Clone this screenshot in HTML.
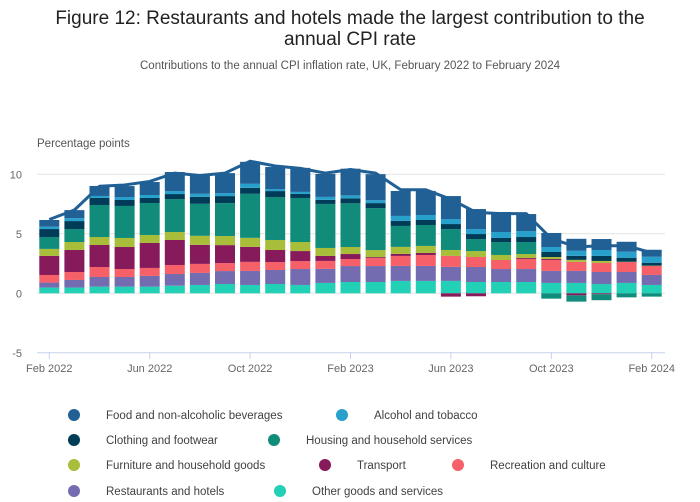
<!DOCTYPE html>
<html><head><meta charset="utf-8">
<style>
body{margin:0;background:#fff;font-family:"Liberation Sans",sans-serif;}
svg{display:block}
</style></head>
<body>
<svg id="chart" width="700" height="502" viewBox="0 0 700 502" xmlns="http://www.w3.org/2000/svg">
<text x="350" y="24" text-anchor="middle" font-size="19" fill="#222">Figure 12: Restaurants and hotels made the largest contribution to the</text>
<text x="350" y="45" text-anchor="middle" font-size="19" fill="#222">annual CPI rate</text>
<text x="350" y="69" text-anchor="middle" font-size="11.5" fill="#555">Contributions to the annual CPI inflation rate, UK, February 2022 to February 2024</text>
<text x="37" y="147" font-size="11.5" fill="#555">Percentage points</text>
<g id="grid"></g><g id="bars"></g><g id="line"></g><g id="xaxis"></g><g id="legend"></g>
</svg>
<script>
const months=["Feb 2022","Mar 2022","Apr 2022","May 2022","Jun 2022","Jul 2022","Aug 2022","Sep 2022","Oct 2022","Nov 2022","Dec 2022","Jan 2023","Feb 2023","Mar 2023","Apr 2023","May 2023","Jun 2023","Jul 2023","Aug 2023","Sep 2023","Oct 2023","Nov 2023","Dec 2023","Jan 2024","Feb 2024"];
const seriesNames=["Other goods and services","Restaurants and hotels","Recreation and culture","Transport","Furniture and household goods","Housing and household services","Clothing and footwear","Alcohol and tobacco","Food and non-alcoholic beverages"];
const seriesColors=["#22d0b6","#746cb1","#f66068","#871a5b","#a8bd3a","#118c7b","#003c57","#27a0cc","#206095"];
const otherGoods=[0.48,0.48,0.56,0.56,0.56,0.64,0.7,0.78,0.7,0.78,0.7,0.87,0.95,0.95,1.04,1.04,1.04,0.95,0.95,0.95,0.87,0.87,0.78,0.87,0.7];
const restaurants=[0.42,0.64,0.81,0.81,0.9,0.98,1.01,1.09,1.18,1.18,1.34,1.18,1.34,1.34,1.26,1.26,1.18,1.26,1.09,1.09,1.01,1.01,1.01,0.92,0.84];
const recreation=[0.64,0.67,0.84,0.67,0.67,0.76,0.76,0.67,0.76,0.67,0.67,0.67,0.59,0.67,0.84,0.92,0.92,0.84,0.76,0.84,0.92,0.76,0.76,0.84,0.76];
const transport=[1.6,1.85,1.85,1.85,2.1,2.1,1.6,1.51,1.26,1.01,0.84,0.42,0.42,0.08,0.17,0.17,-0.28,-0.25,0,0.08,0.08,-0.17,-0.08,0,0];
const furniture=[0.59,0.67,0.67,0.76,0.67,0.67,0.76,0.76,0.76,0.84,0.76,0.67,0.59,0.59,0.59,0.59,0.5,0.5,0.42,0.34,0.17,0.17,0.17,0.02,0.02];
const housing=[1.0,1.09,2.69,2.69,2.69,2.77,2.69,2.77,3.7,3.61,3.7,3.7,3.67,3.53,1.76,1.76,1.76,1.01,1.09,1.01,-0.45,-0.53,-0.5,-0.34,-0.28];
const clothing=[0.67,0.67,0.59,0.5,0.42,0.42,0.59,0.59,0.5,0.5,0.34,0.34,0.42,0.42,0.42,0.42,0.42,0.42,0.34,0.42,0.42,0.34,0.42,0.34,0.25];
const alcohol=[0.2,0.25,0.17,0.25,0.25,0.25,0.25,0.25,0.34,0.17,0.17,0.25,0.25,0.25,0.42,0.42,0.42,0.42,0.5,0.5,0.42,0.42,0.5,0.5,0.5];
const food=[0.56,0.67,0.84,0.92,1.09,1.6,1.6,1.68,1.85,1.85,2.02,1.93,2.24,2.18,2.1,2.02,1.93,1.68,1.68,1.43,1.18,1.01,0.92,0.84,0.59];
const cpiRate=[6.2,7.0,9.0,9.1,9.4,10.1,9.9,10.1,11.1,10.7,10.5,10.1,10.4,10.1,8.7,8.7,7.9,6.8,6.7,6.7,4.6,3.9,4.0,4.0,3.4];
const yTicks=[10,5,0,-5];
const xTickLabels=["Feb 2022","Jun 2022","Oct 2022","Feb 2023","Jun 2023","Oct 2023","Feb 2024"];
const xTickIdx=[0,4,8,12,16,20,24];
const legendOrder=[8,7,6,5,4,3,2,1,0];

const NS="http://www.w3.org/2000/svg";
const series=[otherGoods,restaurants,recreation,transport,furniture,housing,clothing,alcohol,food];
const y=v=>293.3-v*11.9;
const x=i=>49.3+i*(651.7-49.3)/(months.length-1);
function mk(tag,attrs,parent){const e=document.createElementNS(NS,tag);for(const k in attrs)e.setAttribute(k,attrs[k]);parent.appendChild(e);return e;}
const grid=document.getElementById('grid');
yTicks.forEach(t=>{
  const l=mk('line',{x1:37,x2:665,y1:y(t),y2:y(t),stroke:t===-5?'#c5d3ec':'#e2e2e2','stroke-width':1},grid);
  
  
  const tx=mk('text',{x:22,y:y(t)+4,'text-anchor':'end','font-size':11,fill:'#666'},grid);
  tx.textContent=t;
  
  
});
const bars=document.getElementById('bars');
months.forEach((m,i)=>{
  let pos=0,neg=0;
  series.forEach((s,k)=>{
    const v=s[i];if(v===0)return;
    let y0,y1;
    if(v>0){y0=pos;pos+=v;y1=pos;}else{y0=neg;neg+=v;y1=neg;}
    const r=mk('rect',{x:x(i)-10,width:20,y:Math.min(y(y0),y(y1)),height:Math.abs(y(y1)-y(y0)),fill:seriesColors[k]},bars);
    
    
  });
});
const line=document.getElementById('line');
const pl=mk('polyline',{points:cpiRate.map((v,i)=>x(i)+','+y(v)).join(' '),fill:'none',stroke:'#206095','stroke-width':3,'stroke-linejoin':'round'},line);


const xa=document.getElementById('xaxis');
xTickIdx.forEach((idx,j)=>{
  const t=mk('line',{x1:x(idx),x2:x(idx),y1:352,y2:359,stroke:'#c5d3ec'},xa);
  
  
  const tx=mk('text',{x:x(idx),y:372,'text-anchor':'middle','font-size':11,fill:'#666'},xa);
  tx.textContent=xTickLabels[j];
  
  
});
const lg=document.getElementById('legend');
const legPos=[[74,415],[342,415],[74,440],[274,440],[74,465],[325,465],[458,465],[74,491],[280,491]];
legendOrder.forEach((k,j)=>{
  const [lx,ly]=legPos[j];
  const g=mk('g',{},lg);
  
  
  mk('circle',{cx:lx,cy:ly,r:6,fill:seriesColors[k]},g);
  const t=mk('text',{x:lx+32,y:ly+4,'font-size':11.5,fill:'#414042'},g);
  t.textContent=seriesNames[k];
});
</script>
</body></html>
